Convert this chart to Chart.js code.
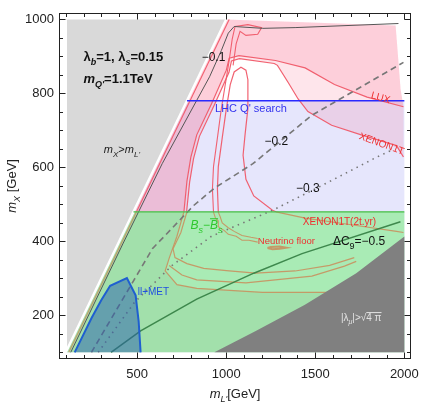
<!DOCTYPE html>
<html><head><meta charset="utf-8">
<script src="https://cdn.jsdelivr.net/npm/chart.js@4.4.0/dist/chart.umd.min.js"></script>
<style>html,body{margin:0;padding:0;background:#fff}canvas{display:block}</style>
</head><body>
<canvas id="c" width="427" height="405"></canvas>
<script>
// ===== values (m_L' [GeV], m_X [GeV]) =====
const xTicks = [500, 1000, 1500, 2000];
const yTicks = [200, 400, 600, 800, 1000];

const regionMxGtML = [[1000,1000],[100,100],[100,1000]];
const regionLHC = [[100,100],[780,780],[2000,780],[2000,100]];
const lhcLine = [[780,780],[2000,780]];
const regionBs = [[100,100],[480,480],[2000,480],[2000,100]];
const bsLine = [[480,480],[2000,480]];

const luxCurve = [[1995,764],[1791,790],[1608,824],[1443,869],[1277,889],[1072,902],[1017,895],[1001,863],[918,772],[835,688],[802,628],[780,563],[763,480]];
const xenonCurve = [[1995,628],[1956,659],[1758,688],[1592,714],[1459,751],[1404,785],[1349,829],[1288,876],[1270,881],[1075,894],[1030,888],[1016,857],[933,768],[850,684],[817,624],[795,560],[778,480]];
const regionLUX = [[480,480],[1000,1000],[1951,984],[1979,811],[1995,764],[1791,790],[1608,824],[1443,869],[1277,889],[1072,902],[1017,895],[1001,863],[918,772],[835,688],[802,628],[780,563],[763,480]];
const regionXENON = [[480,480],[1000,1000],[1951,984],[1979,811],[1995,764],[1995,628],[1956,659],[1758,688],[1592,714],[1459,751],[1404,785],[1349,829],[1288,876],[1270,881],[1075,894],[1030,888],[1016,857],[933,768],[850,684],[817,624],[795,560],[778,480]];
const regionGreenExcl = [[100,100],[480,480],[763,480],[724,414],[680,354],[658,320],[724,283],[835,273],[1205,262],[1570,262],[1791,296],[2000,296],[2000,100]];

const diagRed = [[1017,1000],[497,480]];
const diagOrange = [[497,480],[117,100]];
const arcA1 = [[780,480],[746,424],[702,380],[713,356],[780,340],[874,327],[1017,320],[1166,314],[1387,320],[1581,335],[1719,356]];
const arcA2 = [[680,335],[752,309],[835,296],[1111,288],[1481,306],[1664,333],[1730,346]];
const arcA3 = [[763,480],[724,414],[680,354],[658,320],[724,283],[835,273],[1205,262],[1570,262],[1791,296]];

const x2tRed = [[956,479],[951,542],[956,602],[978,680],[1001,759],[1023,824],[1045,858],[1083,871],[1111,863],[1122,837],[1122,759],[1106,688],[1095,633],[1111,568],[1155,523],[1260,484],[1280,480]];
const x2tOrange = [[1280,480],[1443,463],[1702,445],[1956,427],[1995,424]];
const nuFloorRed = [[929,479],[923,542],[929,602],[951,680],[973,759],[995,824],[1017,889],[1034,947],[1050,981],[1122,986],[1199,978],[1177,960],[1111,957],[1078,968],[1056,934],[1039,876]];
const nuFloorA = [[929,479],[940,463],[956,455],[956,440],[990,429],[1012,419],[1056,414],[1089,403],[1128,403],[1177,398]];
const nuFloorB = [[956,479],[967,466],[978,450],[1012,437],[1045,427],[1089,416],[1139,411],[1177,408]];
const nuBlob = [[1232,382],[1260,379],[1300,380],[1337,383],[1300,386],[1250,385],[1232,382]];

const dC9m01 = [[128,100],[420,393],[641,610],[907,845],[973,916],[1012,963],[1045,981],[1205,976],[1387,978],[1967,989]];
const dC9m02 = [[244,100],[586,380],[818,497],[934,544],[1150,610],[1481,741],[1995,884]];
const dC9m03 = [[282,100],[487,236],[697,335],[918,414],[1260,484],[1553,555],[1846,628],[1940,649]];
const dC9m05 = [[354,100],[520,158],[835,244],[1155,314],[1426,367],[1978,453]];

const regionPerturb = [[934,100],[1166,158],[1442,229],[1730,314],[2000,413],[2000,100]];
const regionLLMET = [[150,100],[244,192],[299,241],[349,280],[443,301],[492,254],[509,184],[520,100]];

// ===== rendering =====
const F = '"Liberation Sans", Arial, sans-serif';
const pts = a => a.map(p => ({x: p[0], y: p[1]}));
function area(d, color, order, bw, bc) {
  return {data: pts(d), fill: 'shape', backgroundColor: color, borderWidth: bw || 0,
    borderColor: bc || 'rgba(0,0,0,0)', pointRadius: 0, order: order, tension: 0};
}
function curve(d, color, w, dash, order) {
  return {data: pts(d), fill: false, borderColor: color, borderWidth: w, borderDash: dash || [],
    pointRadius: 0, order: order, tension: 0, borderCapStyle: 'butt'};
}
const RED = 'rgba(240,90,105,0.95)';
const ORG = 'rgba(200,145,95,0.9)';
const PINK = 'rgba(250,95,130,0.16)';

const datasets = [
  area(regionLHC, '#e6e6fc', 100),
  area(regionBs, '#a9ebb5', 99),
  area(regionGreenExcl, 'rgba(70,90,40,0.07)', 98),
  area(regionLUX, PINK, 97),
  area(regionXENON, PINK, 96),
  area(regionMxGtML, '#d9d9d9', 95, 2.5, '#ffffff'),
  curve(arcA1, ORG, 1.2, null, 60),
  curve(arcA2, ORG, 1.2, null, 60),
  curve(arcA3, ORG, 1.2, null, 60),
  curve(diagOrange, ORG, 1.1, null, 60),
  curve(x2tOrange, ORG, 1.2, null, 60),
  curve(nuFloorA, ORG, 1.1, null, 60),
  curve(nuFloorB, ORG, 1.1, null, 60),
  curve(nuBlob, ORG, 2, null, 60),
  curve(luxCurve, RED, 1.2, null, 59),
  curve(xenonCurve, RED, 1.2, null, 59),
  curve(diagRed, RED, 1.1, null, 59),
  curve(x2tRed, RED, 1.2, null, 59),
  curve(nuFloorRed, RED, 1.1, null, 59),
  area(regionPerturb, '#808080', 55),
  curve(dC9m01, '#555555', 1, null, 40),
  curve(dC9m02, '#777777', 1.6, [6, 4], 40),
  curve(dC9m03, '#777777', 1.6, [1.5, 4.5], 40),
  curve(dC9m05, 'rgba(50,125,65,0.9)', 1.5, null, 40),
  curve(bsLine, '#46be46', 1.2, null, 35),
  curve(lhcLine, '#2a2aff', 1.5, null, 34),
  area(regionLLMET, 'rgba(40,95,175,0.5)', 30, 2, '#1f5fd0')
];

function drawRuns(ctx, runs, x, y, o) {
  const size = o.size;
  const fontFor = r => `${r.it ? 'italic ' : ''}${o.weight || 'normal'} ${r.sub ? Math.round(size * 0.72) : size}px ${F}`;
  let w = 0;
  for (const r of runs) { ctx.font = fontFor(r); r._w = ctx.measureText(r.t).width; w += r._w; }
  ctx.save();
  ctx.translate(x, y);
  if (o.rotate) ctx.rotate(o.rotate * Math.PI / 180);
  let cx = o.align === 'left' ? 0 : -w / 2;
  ctx.fillStyle = o.color; ctx.strokeStyle = o.color;
  ctx.textBaseline = 'alphabetic'; ctx.textAlign = 'left';
  const base = size * 0.36;
  for (const r of runs) {
    ctx.font = fontFor(r);
    ctx.fillText(r.t, cx, base + (r.sub ? size * 0.3 : 0));
    if (r.bar) {
      ctx.lineWidth = 1; ctx.beginPath();
      ctx.moveTo(cx, base - size * 0.86); ctx.lineTo(cx + r._w, base - size * 0.86); ctx.stroke();
    }
    cx += r._w;
  }
  ctx.restore();
}

const notes = [
  {x: 199, y: 900, align: 'left', size: 13, weight: 'bold', color: '#111',
   runs: [{t: 'λ'}, {t: 'b', sub: 1, it: 1}, {t: '=1, '}, {t: 'λ'}, {t: 's', sub: 1, it: 1}, {t: '=0.15'}]},
  {x: 199, y: 840, align: 'left', size: 13, weight: 'bold', color: '#111',
   runs: [{t: 'm', it: 1}, {t: "Q'", sub: 1, it: 1}, {t: '=1.1TeV'}]},
  {x: 929, y: 900, size: 12, color: '#111', runs: [{t: '−0.1'}]},
  {x: 415, y: 649, size: 11, color: '#222',
   runs: [{t: 'm', it: 1}, {t: 'X', sub: 1, it: 1}, {t: '>'}, {t: 'm', it: 1}, {t: "L'", sub: 1, it: 1}]},
  {x: 1868, y: 790, size: 10, color: '#ee3030', rotate: 15, runs: [{t: 'LUX'}]},
  {x: 1139, y: 761, size: 11, color: '#3333ee', runs: [{t: "LHC Q' search"}]},
  {x: 1282, y: 672, size: 12, color: '#111', runs: [{t: '−0.2'}]},
  {x: 1874, y: 665, size: 10, color: '#ee3030', rotate: 20, runs: [{t: 'XENON1T'}]},
  {x: 1459, y: 544, size: 12, color: '#111', runs: [{t: '−0.3'}]},
  {x: 890, y: 445, size: 12, color: '#2ec82e',
   runs: [{t: 'B', it: 1}, {t: 's', sub: 1, it: 1}, {t: '−'}, {t: 'B', it: 1, bar: 1}, {t: 's', sub: 1, it: 1}]},
  {x: 1636, y: 453, size: 10, color: '#ee3030', runs: [{t: 'XENON1T(2t.yr)'}]},
  {x: 1338, y: 403, size: 9.5, color: '#ee3030', runs: [{t: 'Neutrino floor'}]},
  {x: 1746, y: 401, size: 12, color: '#111', runs: [{t: 'ΔC'}, {t: '9', sub: 1}, {t: '=−0.5'}]},
  {x: 592, y: 265, size: 10, color: '#2050e0', runs: [{t: 'll+MET'}]},
  {x: 1758, y: 194, size: 10, color: '#e2e2e2',
   runs: [{t: '|λ'}, {t: 'μ', sub: 1, it: 1}, {t: '|>'}, {t: '√'}, {t: '4 π', bar: 1}]}
];

const decor = {
  id: 'decor',
  afterDatasetsDraw(chart) {
    const {ctx, scales: {x, y}} = chart;
    for (const n of notes) drawRuns(ctx, n.runs, x.getPixelForValue(n.x), y.getPixelForValue(n.y), n);
  },
  afterDraw(chart) {
    const {ctx, chartArea: a, scales: {x, y}} = chart;
    ctx.save();
    ctx.strokeStyle = '#222'; ctx.lineWidth = 1;
    const L = Math.round(a.left) + 0.5, R = Math.round(a.right) - 0.5, T = Math.round(a.top) + 0.5, B = Math.round(a.bottom) - 0.5;
    ctx.strokeRect(L, T, R - L, B - T);
    ctx.beginPath();
    for (let v = 100; v <= 2000; v += 100) {
      const p = Math.round(x.getPixelForValue(v)) + 0.5, len = v % 500 === 0 ? 6 : 3.5;
      ctx.moveTo(p, B); ctx.lineTo(p, B - len); ctx.moveTo(p, T); ctx.lineTo(p, T + len);
    }
    for (let v = 100; v <= 1000; v += 50) {
      const p = Math.round(y.getPixelForValue(v)) + 0.5, len = v % 200 === 0 ? 6 : 3.5;
      ctx.moveTo(L, p); ctx.lineTo(L + len, p); ctx.moveTo(R, p); ctx.lineTo(R - len, p);
    }
    ctx.stroke();
    ctx.restore();
    // axis titles
    drawRuns(ctx, [{t: 'm', it: 1}, {t: "L'", sub: 1, it: 1}, {t: '[GeV]'}], (a.left + a.right) / 2, 393, {size: 13, color: '#222'});
    ctx.save();
    ctx.translate(11, (a.top + a.bottom) / 2);
    ctx.rotate(-Math.PI / 2);
    drawRuns(ctx, [{t: 'm', it: 1}, {t: 'X', sub: 1, it: 1}, {t: ' [GeV]'}], 0, 0, {size: 13, color: '#222'});
    ctx.restore();
  }
};

new Chart(document.getElementById('c'), {
  type: 'line',
  data: {datasets: datasets},
  options: {
    responsive: false, animation: false, devicePixelRatio: 1, events: [],
    layout: {padding: {top: 1, right: 10, left: 0, bottom: 0}},
    plugins: {legend: {display: false}, tooltip: {enabled: false}},
    scales: {
      x: {type: 'linear', min: 62, max: 2038,
        grid: {display: false, drawTicks: false}, border: {display: false},
        afterBuildTicks: s => { s.ticks = xTicks.map(v => ({value: v})); },
        afterFit: s => { s.height = 46; },
        ticks: {padding: 8, color: '#222', font: {family: F, size: 13}, maxRotation: 0, autoSkip: false,
          callback: v => String(v)}},
      y: {type: 'linear', min: 82, max: 1018,
        grid: {display: false, drawTicks: false}, border: {display: false},
        afterBuildTicks: s => { s.ticks = yTicks.map(v => ({value: v})); },
        afterFit: s => { s.width = 59; },
        ticks: {padding: 5, color: '#222', font: {family: F, size: 13}, autoSkip: false,
          callback: v => String(v)}}
    }
  },
  plugins: [decor]
});
</script>
</body></html>
